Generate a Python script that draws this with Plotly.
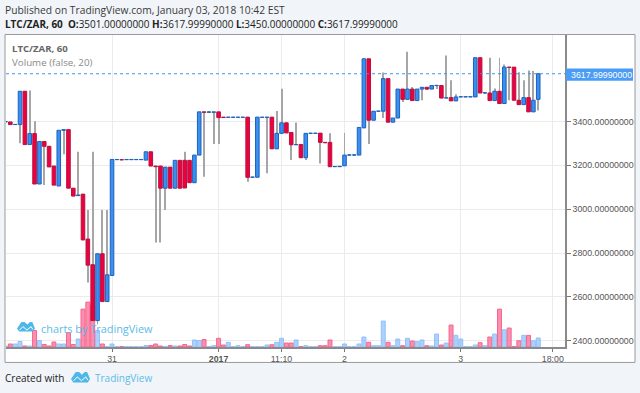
import plotly.graph_objects as go

W, H = 640, 393
L, R, T, B = 6, 565, 34.5, 347.5

opens = [3398,3398,3386,3386,3538,3295,3345,3115,3309,3287,3197,3106,3360,3363,3096,3062,3069,2864,2747,2492,
         2797,2579,2698,3226,3226,3226,3226,3226,3226,3224,3262,3197,3197,3096,3192,3096,3223,3223,3223,3121,
         3247,3444,3442,3442,3444,3420,3419,3419,3419,3419,3420,3146,3146,3419,3419,3420,3275.5,3346,3394,3350,
         3294,3295.5,3235,3346,3346,3347,3305,3305,3194,3194,3198,3247,3247,3247,3371,3686,3406,3447,3447,3595.5,
         3397,3416,3548,3501,3548,3495.5,3548,3556,3548,3564,3564,3507,3509,3494,3512,3512,3512,3512,3691,3530,
         3530,3495.5,3538,3482,3648,3648,3497,3477,3509,3444,3501]
closes = [3400,3386,3387,3538,3295,3345,3115,3309,3287,3193,3110,3360,3363,3096,3060,3065,2860,2745,2492,2797,
          2579,2701,3227,3227,3225,3227,3227,3227,3227,3262,3197,3194,3096,3192,3096,3223,3096,3097,3121,3247,
          3444,3442,3444,3444,3418,3418,3420,3420,3420,3420,3145.5,3147,3420,3420,3420,3275.5,3346,3394,3348,3294,
          3295,3235,3346,3347,3347,3305,3303,3194,3195,3196,3247,3248,3248,3373,3686,3406,3447,3448,3595.5,3397,
          3416,3548,3501,3548,3495.5,3548,3556,3548,3564,3565,3507,3508,3494,3512,3513,3513,3513,3691,3530,3531,
          3495.5,3538,3482,3648,3647,3497,3477,3509,3444,3497,3618]
# wicks that reach past the body: bar index -> value
highs_extra = {5:3542,6:3401,15:3262,17:2997,18:3262,20:2997,21:2997,37:3262,56:3448,57:3550,60:3395,67:3346,
               70:3348,78:3623,83:3718,84:3557,91:3701,92:3588,93:3524,100:3691,101:3551,102:3691,103:3660,
               106:3625,107:3588,108:3633,109:3630}
lows_extra = {3:3301,8:3110,12:3251,17:2666,19:2474,31:2848,32:2848,33:2997,41:3148,43:3297,44:3297,50:3125.5,
              54:3164,59:3224,62:3224,65:3209,75:3297,78:3416,82:3489,86:3497,89:3548,104:3497,110:3450}
volumes = [1,3,3,5.5,1,1,16.5,6.5,2.5,1,5,3,3,14.5,2.5,8,38,45,42,16.5,
           3,.3,3,.3,.3,.3,.3,.3,.3,1.5,1.5,3,1,.5,1.5,1,1,2.5,1,7,
           6.5,7.5,.5,1.3,8.7,2,4.7,.3,1.3,.3,2.3,.3,.3,.3,2,2.3,4.7,8.7,4,4,
           7,.3,1.3,.3,.3,1.3,1.3,7,.3,.3,3,.3,.3,3,10,4.7,1.3,1.3,26,4.7,
           1.3,8,1.3,8.7,6,5.3,7,1.3,1,13,2,4,22,11.7,8,.3,.3,2,4.3,1.3,
           10,13,38,17.3,19,.3,6.3,11.7,11.7,6.3,9]
tick_pos = [22, 44, 57, 70, 94, 113]
tick_txt = ["31", "<b>2017</b>", "11:10", "2", "3", "18:00"]
price_ticks = [2400, 2600, 2800, 3000, 3200, 3400]
last_price = 3617.9999
symbol = "LTC/ZAR, 60"

BLUE, BLUE_L, RED, RED_L = "#3b8ff0", "#1c62bd", "#ee0040", "#b5123f"
xs = list(range(len(opens)))
up = [c >= o for o, c in zip(opens, closes)]
highs = [max(o, c, highs_extra.get(i, 0)) for i, (o, c) in enumerate(zip(opens, closes))]
lows = [min(o, c, lows_extra.get(i, 1e9)) for i, (o, c) in enumerate(zip(opens, closes))]

# pixel -> axis ranges
SPACING = 4.843
x_rng = [(L - 5.5) / SPACING, (R - 5.5) / SPACING]
y_rng = [2400 + (341.3 - B) / 0.22, 2400 + (341.3 - T) / 0.22]
px = lambda x: (x - L) / (R - L)
py = lambda y: 1 - (y - T) / (B - T)

fig = go.Figure()
fig.add_trace(go.Bar(x=xs, y=volumes, width=0.82, yaxis="y",
                     marker=dict(color=["rgba(130,185,250,.65)" if u else "rgba(250,95,140,.7)" for u in up],
                                 line=dict(color=["#8fc0fa" if u else "#f9638f" for u in up], width=1))))
fig.add_trace(go.Bar(x=xs, y=[h - l for h, l in zip(highs, lows)], base=lows, width=0.2, yaxis="y2",
                     marker=dict(color="#a6a6a6", line=dict(width=0))))
fig.add_trace(go.Bar(x=xs, y=[abs(c - o) for o, c in zip(opens, closes)],
                     base=[min(o, c) for o, c in zip(opens, closes)], width=0.74, yaxis="y2",
                     marker=dict(color=[BLUE if u else RED for u in up],
                                 line=dict(color=[BLUE_L if u else RED_L for u in up], width=1))))

def logo(x0, y0, x1, y1):
    X = lambda f: x0 + (x1 - x0) * f
    Y = lambda f: y0 + (y1 - y0) * f
    out = []
    blob = [(0,.7),(.25,.05),(.42,.05),(.58,.3),(.72,.05),(.85,.05),(1,.7),(.88,1),(.12,1)]
    d = "M" + " L".join(f"{px(X(a)):.5f},{py(Y(b)):.5f}" for a, b in blob) + " Z"
    out.append(dict(type="path", path=d, xref="paper", yref="paper", fillcolor="#4db8e8",
                    line=dict(width=0), layer="above"))
    zig = [(.14,.85),(.33,.5),(.55,.85),(.78,.5),(.88,.78)]
    d = "M" + " L".join(f"{px(X(a)):.5f},{py(Y(b)):.5f}" for a, b in zig)
    out.append(dict(type="path", path=d, xref="paper", yref="paper",
                    line=dict(color="#ffffff", width=1), layer="above"))
    return out

shapes = [
    dict(type="rect", xref="paper", yref="paper", x0=px(5), x1=px(635), y0=py(34), y1=py(363),
         fillcolor="#ffffff", line=dict(color="#9a9a9a", width=1), layer="below"),
    dict(type="line", xref="paper", yref="y2", x0=0, x1=px(566), y0=last_price, y1=last_price,
         line=dict(color="#3f94f2", width=1, dash="dot"), layer="above"),
    dict(type="rect", xref="paper", yref="paper", x0=px(566), x1=px(633), y0=py(68), y1=py(80.5),
         fillcolor="#4a9cf6", line=dict(width=0), layer="above"),
]
shapes += logo(17, 322, 35, 332) + logo(71, 372, 90, 383)

def note(x, y, text, size, color, family="Open Sans", anchor="left"):
    return dict(x=px(x - 2), y=py(y), xref="paper", yref="paper", text=text, showarrow=False, xanchor=anchor,
                yanchor="middle", align="left", font=dict(size=size, color=color, family=family))

G = "#3a3a3a"
TICK = 8.8
annos = [
    note(4.5, 9, "Published on TradingView.com, January 03, 2018 10:42 EST", 10.25, G),
    note(4.5, 23.5, f"<b>{symbol}</b>  <b>O:</b>3501.00000000 <b>H:</b>3617.99990000 <b>L:</b>3450.00000000 <b>C:</b>3617.99990000", 9.95, "#222222"),
    note(12, 48, f"<b>{symbol}</b>", 9.6, "#666666"),
    note(12, 62, "Volume (false, 20)", 9.75, "#8a8a8a"),
    note(571, 74.3, f"{last_price:.8f}", TICK, "#ffffff", "Liberation Sans"),
    note(41, 329, "charts by TradingView", 10.9, "#5cbce8"),
    note(4.5, 378.5, "Created with", 10, "#222222"),
    note(95, 378.5, "TradingView", 10, "#5cbce8"),
]

fig.update_layout(
    width=W, height=H, autosize=False, showlegend=False, barmode="overlay",
    margin=dict(l=L, r=W - R, t=T, b=H - B, pad=0),
    paper_bgcolor="#f1f4f8", plot_bgcolor="rgba(0,0,0,0)",
    font=dict(family="Liberation Sans", size=TICK, color="#555555"),
    shapes=shapes, annotations=annos,
    xaxis=dict(range=x_rng, automargin=False, tickmode="array", tickvals=tick_pos, ticktext=tick_txt,
               ticks="outside", ticklen=3, tickcolor="#777777", showgrid=True, gridcolor="#ebebeb", gridwidth=1,
               zeroline=False, showline=True, linecolor="#8a8a8a", linewidth=1.5,
               tickfont=dict(size=TICK, color="#555555")),
    yaxis=dict(range=[0, B - T], visible=False, fixedrange=True, automargin=False),
    yaxis2=dict(range=y_rng, automargin=False, overlaying="y", side="right", tickmode="array", tickvals=price_ticks,
                ticktext=[f"{p:.8f}" for p in price_ticks], ticks="outside", ticklen=4, tickcolor="#777777",
                showgrid=True, gridcolor="#ebebeb", gridwidth=1, zeroline=False, showline=True,
                linecolor="#8a8a8a", linewidth=1.5, tickfont=dict(size=TICK, color="#555555")),
)
fig.write_html("out.html", config=dict(displayModeBar=False),
               post_script="document.body.style.margin='0';document.body.style.overflow='hidden';")
